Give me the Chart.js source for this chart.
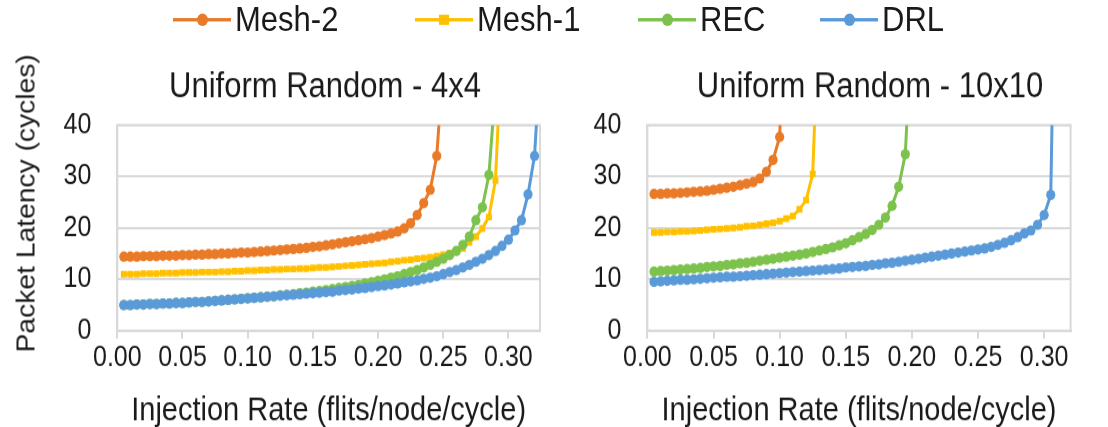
<!DOCTYPE html>
<html>
<head>
<meta charset="utf-8">
<script src="https://cdn.jsdelivr.net/npm/chart.js@4.4.1/dist/chart.umd.min.js"></script>
<style>
  html, body { margin: 0; padding: 0; width: 1108px; height: 427px; overflow: hidden; background: #fff; }
  body { font-family: "Liberation Sans", Arial, sans-serif; }
  #stage { position: absolute; left: 0; top: 0; width: 1108px; height: 378px; transform: scaleY(1.12963); transform-origin: 0 0; }
  canvas { position: absolute; top: 0; }
  #legend { position: absolute; left: 0; top: 0; width: 1108px; height: 34px; }
  .item { position: absolute; top: 0; height: 34px; display: flex; align-items: center; font-size: 31px; line-height: 34px; color: #1a1a1a; white-space: nowrap; }
  .sw { position: relative; width: 58px; height: 34px; margin-right: 4px; }
  .sw .ln { position: absolute; left: 0; right: 0; top: 16px; height: 2.8px; }
  .sw .mk { position: absolute; }
  #ytitle { position: absolute; left: 26px; top: 180px; transform: translate(-50%, -50%) rotate(-90deg); white-space: nowrap; font-size: 25px; color: #1a1a1a; }
</style>
</head>
<body>
<div id="stage">
  <canvas id="c1"></canvas>
  <canvas id="c2"></canvas>
  <div id="legend"></div>
  <div id="ytitle"></div>
</div>
<script>
// ---------- data ----------
const seriesNames = ['Mesh-2', 'Mesh-1', 'REC', 'DRL'];
const seriesColors = ['#E97A28', '#FFC000', '#7CC24C', '#5A9AD8'];
const seriesMarkers = ['circle', 'rect', 'circle', 'circle'];

const chartTitles = ['Uniform Random - 4x4', 'Uniform Random - 10x10'];
const xAxisTitle = 'Injection Rate (flits/node/cycle)';
const yAxisTitle = 'Packet Latency (cycles)';
const xTickValues = [0, 0.05, 0.10, 0.15, 0.20, 0.25, 0.30];
const xTickLabels = ['0.00', '0.05', '0.10', '0.15', '0.20', '0.25', '0.30'];
const yTickValues = [0, 10, 20, 30, 40];

// injection rates (flits/node/cycle), sampled every 0.005
const rates = [
  0.005,0.010,0.015,0.020,0.025,0.030,0.035,0.040,0.045,0.050,
  0.055,0.060,0.065,0.070,0.075,0.080,0.085,0.090,0.095,0.100,
  0.105,0.110,0.115,0.120,0.125,0.130,0.135,0.140,0.145,0.150,
  0.155,0.160,0.165,0.170,0.175,0.180,0.185,0.190,0.195,0.200,
  0.205,0.210,0.215,0.220,0.225,0.230,0.235,0.240,0.245,0.250,
  0.255,0.260,0.265,0.270,0.275,0.280,0.285,0.290,0.295,0.300,
  0.305,0.310,0.315,0.320,0.325
];

// 4x4 latencies (cycles)
const mesh2_4x4 = [
  14.4,14.4,14.4,14.5,14.5,14.5,14.6,14.6,14.6,14.7,
  14.7,14.8,14.8,14.9,14.9,15.0,15.0,15.1,15.2,15.2,
  15.3,15.4,15.5,15.6,15.7,15.8,15.9,16.0,16.1,16.3,
  16.4,16.6,16.8,17.0,17.2,17.4,17.6,17.8,18.0,18.3,
  18.6,18.9,19.3,19.9,20.9,22.5,24.8,27.4,34.0,52
];
const mesh1_4x4 = [
  11.0,11.0,11.0,11.1,11.1,11.1,11.2,11.2,11.2,11.3,
  11.3,11.3,11.4,11.4,11.4,11.5,11.5,11.6,11.6,11.7,
  11.7,11.8,11.8,11.9,11.9,12.0,12.0,12.1,12.1,12.2,
  12.3,12.3,12.4,12.5,12.6,12.7,12.8,12.9,13.0,13.1,
  13.2,13.4,13.5,13.7,13.8,14.0,14.1,14.3,14.5,14.8,
  15.1,15.4,16.0,17.2,18.3,19.9,22.1,29.2,56
];
const rec_4x4 = [
  5.0,5.0,5.1,5.1,5.2,5.2,5.3,5.3,5.4,5.4,
  5.5,5.6,5.6,5.7,5.8,5.9,6.0,6.1,6.2,6.3,
  6.4,6.5,6.6,6.7,6.9,7.0,7.1,7.3,7.4,7.6,
  7.7,7.9,8.1,8.3,8.5,8.7,8.9,9.2,9.4,9.7,
  10.0,10.3,10.6,11.0,11.4,11.8,12.3,12.8,13.4,14.0,
  14.7,15.5,16.7,18.3,21.5,24.0,30.3,47
];
const drl_4x4 = [
  5.0,5.0,5.1,5.1,5.2,5.2,5.3,5.3,5.4,5.4,
  5.5,5.6,5.6,5.7,5.8,5.9,6.0,6.1,6.2,6.3,
  6.4,6.5,6.6,6.7,6.8,6.9,7.0,7.1,7.2,7.3,
  7.4,7.5,7.6,7.8,7.9,8.0,8.2,8.3,8.5,8.7,
  8.8,9.0,9.2,9.4,9.6,9.8,10.1,10.3,10.6,11.0,
  11.4,11.8,12.3,12.8,13.4,14.0,14.7,15.5,16.5,17.7,
  19.5,21.5,26.5,34.0,55
];

// 10x10 latencies (cycles)
const mesh2_10x10 = [
  26.6,26.6,26.7,26.7,26.8,26.9,27.0,27.1,27.2,27.4,
  27.6,27.8,28.0,28.3,28.6,28.9,29.6,30.9,33.2,37.7,76
];
const mesh1_10x10 = [
  19.1,19.1,19.2,19.2,19.3,19.3,19.4,19.5,19.6,19.7,
  19.8,19.9,20.0,20.1,20.3,20.4,20.6,20.8,21.0,21.3,
  21.8,22.3,23.6,25.4,30.5,65
];
const rec_10x10 = [
  11.5,11.6,11.7,11.8,11.9,12.0,12.1,12.2,12.4,12.5,
  12.6,12.8,12.9,13.1,13.2,13.4,13.6,13.8,14.0,14.2,
  14.4,14.6,14.8,15.0,15.3,15.6,15.9,16.2,16.6,17.0,
  17.6,18.2,18.8,19.6,20.6,22.0,24.3,28.0,34.3,60
];
const drl_10x10 = [
  9.5,9.6,9.7,9.8,9.9,9.9,10.0,10.1,10.2,10.3,
  10.4,10.5,10.5,10.6,10.7,10.8,10.9,11.0,11.1,11.2,
  11.3,11.4,11.5,11.6,11.7,11.8,11.9,12.0,12.1,12.3,
  12.4,12.5,12.6,12.8,12.9,13.1,13.2,13.4,13.6,13.8,
  14.0,14.2,14.4,14.6,14.8,15.0,15.2,15.4,15.6,15.8,
  16.0,16.3,16.7,17.1,17.6,18.2,18.9,19.5,20.6,22.5,
  26.4,100
];

// ---------- legend (HTML) ----------
const legendX = [173, 415, 638, 820];
const legendEl = document.getElementById('legend');
seriesNames.forEach((name, i) => {
  const it = document.createElement('div');
  it.className = 'item';
  it.style.left = legendX[i] + 'px';
  const sw = document.createElement('div'); sw.className = 'sw';
  const ln = document.createElement('div'); ln.className = 'ln'; ln.style.background = seriesColors[i];
  const mk = document.createElement('div'); mk.className = 'mk'; mk.style.background = seriesColors[i];
  const d = seriesMarkers[i] === 'circle' ? 11 : 9.5;
  mk.style.width = d + 'px'; mk.style.height = d + 'px';
  mk.style.left = (29 - d / 2) + 'px'; mk.style.top = (17.4 - d / 2) + 'px';
  if (seriesMarkers[i] === 'circle') mk.style.borderRadius = '50%';
  sw.appendChild(ln); sw.appendChild(mk);
  const tx = document.createElement('span'); tx.textContent = name;
  it.appendChild(sw); it.appendChild(tx);
  legendEl.appendChild(it);
});
document.getElementById('ytitle').textContent = yAxisTitle;

// ---------- charts ----------
const GRID = '#D9D9D9';
const TEXT = '#1a1a1a';
const FONT = "'Liberation Sans', Arial, sans-serif";
const H = 378;            // unstretched canvas height
const PLOT_TOP = 110.66;
const PLOT_BOTTOM = 292.76;

const plotBorder = {
  id: 'plotBorder',
  beforeDatasetsDraw(chart) {
    const a = chart.chartArea, ctx = chart.ctx;
    ctx.save();
    ctx.strokeStyle = GRID; ctx.lineWidth = 2;
    ctx.strokeRect(a.left, a.top, a.right - a.left, a.bottom - a.top);
    ctx.restore();
  }
};

function buildDatasets(lists) {
  return lists.map((vals, i) => ({
    label: seriesNames[i],
    data: vals.map((v, k) => ({ x: rates[k], y: v })),
    borderColor: seriesColors[i],
    backgroundColor: seriesColors[i],
    borderWidth: 3,
    pointStyle: seriesMarkers[i],
    pointRadius: seriesMarkers[i] === 'rect' ? 4.2 : 4.6,
    pointBorderWidth: 0,
    pointHoverRadius: 4.6,
    tension: 0,
    order: 4 - i
  }));
}

function makeChart(canvasId, cfg) {
  const cv = document.getElementById(canvasId);
  cv.style.left = cfg.left + 'px';
  cv.width = cfg.width; cv.height = H;
  cv.style.width = cfg.width + 'px'; cv.style.height = H + 'px';
  return new Chart(cv, {
    type: 'line',
    data: { datasets: buildDatasets(cfg.lists) },
    plugins: [plotBorder],
    options: {
      responsive: false,
      animation: false,
      events: [],
      layout: { padding: 0 },
      plugins: {
        legend: { display: false },
        tooltip: { enabled: false },
        title: {
          display: true, text: cfg.title, color: TEXT,
          font: { family: FONT, size: 31, weight: 'normal', lineHeight: 1.2 },
          padding: { top: 59.3, bottom: PLOT_TOP - 59.3 - 37.2 }
        }
      },
      scales: {
        x: {
          type: 'linear', min: 0, max: cfg.xMax,
          afterBuildTicks: s => { s.ticks = xTickValues.map(v => ({ value: v })); },
          afterFit: s => { s.height = H - PLOT_BOTTOM; },
          ticks: {
            color: TEXT, font: { family: FONT, size: 25 }, padding: 2.5, maxRotation: 0, autoSkip: false,
            callback: (v) => { const k = xTickValues.findIndex(t => Math.abs(t - v) < 1e-9); return k >= 0 ? xTickLabels[k] : ''; }
          },
          grid: { drawOnChartArea: false, drawTicks: true, tickLength: 7, color: GRID, lineWidth: 2 },
          border: { display: true, color: GRID, width: 2 },
          title: { display: true, text: xAxisTitle, color: TEXT, font: { family: FONT, size: 29, lineHeight: 1 }, padding: { top: 0, bottom: 0 } }
        },
        y: {
          type: 'linear', min: 0, max: 40,
          afterBuildTicks: s => { s.ticks = yTickValues.map(v => ({ value: v })); },
          afterFit: s => { s.width = cfg.yWidth; },
          ticks: { color: TEXT, font: { family: FONT, size: 25 }, padding: 26 },
          grid: { color: GRID, lineWidth: 2, drawTicks: false },
          border: { display: true, color: GRID, width: 2 }
        },
        yPad: {
          type: 'linear', position: 'right', min: 0, max: 1, display: true,
          afterFit: s => { s.width = cfg.rightSpace; },
          ticks: { display: false }, grid: { display: false }, border: { display: false }
        }
      }
    }
  });
}

// left chart: plot area x 117.3..540, title centred at 325
makeChart('c1', {
  left: 0, width: 650, yWidth: 117.3, rightSpace: 110, xMax: 0.3242,
  title: chartTitles[0], lists: [mesh2_4x4, mesh1_4x4, rec_4x4, drl_4x4]
});
// right chart: plot area x 647.4..1070.6, title centred at 870
makeChart('c2', {
  left: 585, width: 570, yWidth: 62.4, rightSpace: 84.4, xMax: 0.32,
  title: chartTitles[1], lists: [mesh2_10x10, mesh1_10x10, rec_10x10, drl_10x10]
});
</script>
</body>
</html>
